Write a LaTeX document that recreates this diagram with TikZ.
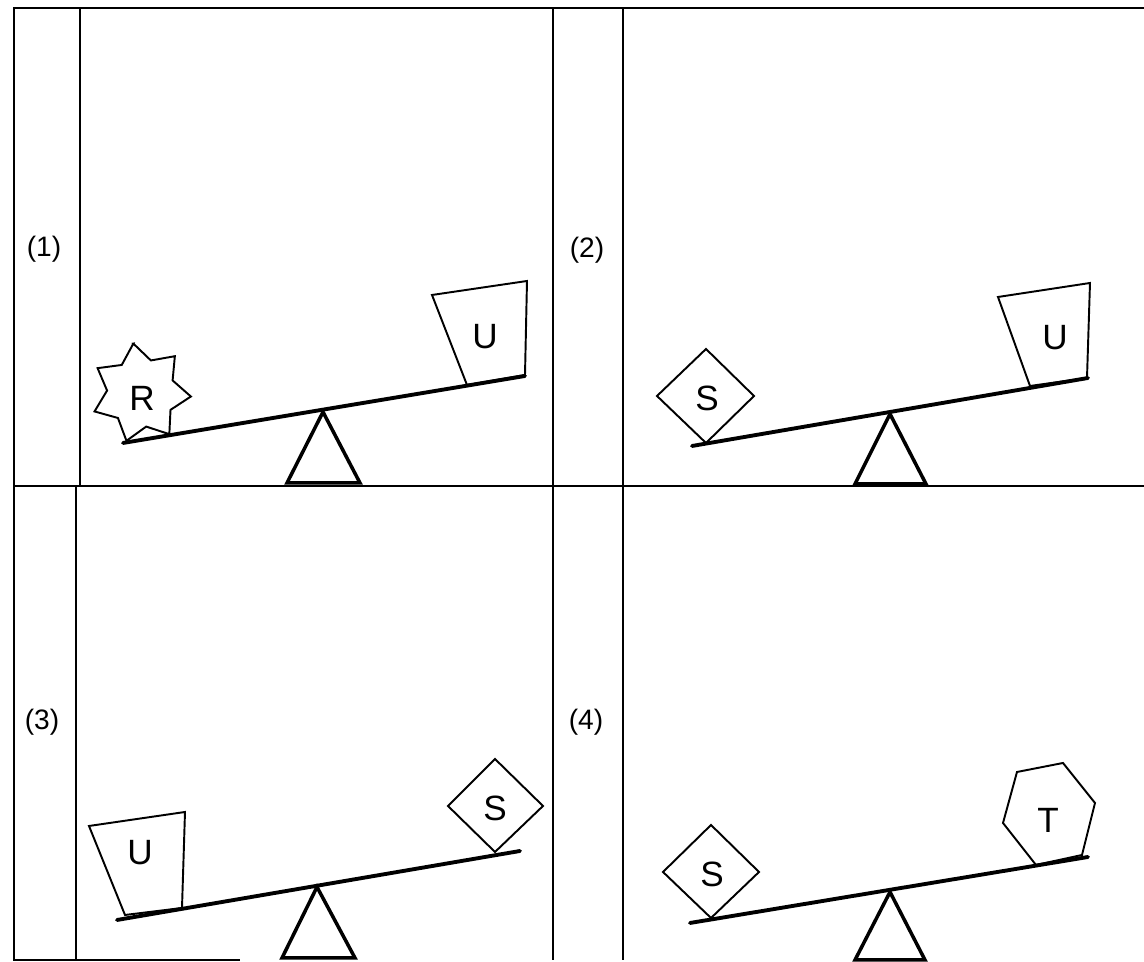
\documentclass[tikz,border=0pt]{standalone}
\usepackage{fontspec}
\setmainfont{Liberation Sans}
\usepackage{tikz}
\usetikzlibrary{positioning}
\tikzset{frame/.style = {line width=1.2pt},
         beam/.style = {line width=2.2pt, line cap=round},
         fulcrum/.style = {line width=2pt, line join=miter},
         weight/.style = {line width=1.1pt, line join=miter},
         letter/.style = {font=\fontsize{20}{22}\selectfont},
         tag/.style = {font=\fontsize{16}{18}\selectfont}}

\begin{document}
\begin{tikzpicture}[x=0.02cm, y=0.02cm]
    \useasboundingbox (0, 0) rectangle (1144, 962);

    \draw [frame] (1144, 954) -- (14, 954) -- (14, 2) -- (240, 2);
    \draw [frame] (14, 476) -- (1144, 476);
    \draw [frame] (80, 954) -- (80, 476);
    \draw [frame] (76, 476) -- (76, 2);
    \draw [frame] (553, 954) -- (553, 2);
    \draw [frame] (623, 954) -- (623, 2);

    \node [tag] (lab1) at (44, 713) {(1)};
    \node [tag] (lab2) at (587, 712) {(2)};
    \node [tag] (lab3) at (42, 240) {(3)};
    \node [tag] (lab4) at (586, 240) {(4)};

    % (1)
    \coordinate (piv1) at (323, 550);
    \draw [fulcrum] (piv1) -- ++(-36, -71) -- ++(73, 0) -- cycle;
    \draw [beam] (123, 519) -- (525, 586);
    \draw [weight] (432, 667) -- (527, 681) -- (525, 587) -- (467, 577) -- cycle;
    \node [letter] (u1) at (485, 625) {U};
    \draw [weight, shift={(141, 569)}] (98.8:50)
        \foreach \i in {0,...,6} { -- ({124.5 + 51.43*\i}:34) -- ({150.23 + 51.43*\i}:50)}
        -- cycle;
    \node [letter] (r1) at (142, 564) {R};

    % (2)
    \coordinate (piv2) at (890, 548);
    \draw [fulcrum] (piv2) -- ++(-35, -70) -- ++(71, 0) -- cycle;
    \draw [beam] (692, 516) -- (1088, 584);
    \draw [weight] (998, 665) -- (1090, 679) -- (1087, 584) -- (1030, 576) -- cycle;
    \node [letter] (u2) at (1055, 624) {U};
    \draw [weight] (706, 613) -- (754, 566) -- (706, 519) -- (657, 566) -- cycle;
    \node [letter] (s2) at (707, 564) {S};

    % (3)
    \coordinate (piv3) at (317, 75);
    \draw [fulcrum] (piv3) -- ++(-35, -71) -- ++(73, 0) -- cycle;
    \draw [beam] (117, 42) -- (520, 111);
    \draw [weight] (89, 136) -- (185, 150) -- (182, 54) -- (125, 47) -- cycle;
    \node [letter] (u3) at (140, 109) {U};
    \draw [weight] (495, 203) -- (543, 156) -- (495, 110) -- (448, 156) -- cycle;
    \node [letter] (s3) at (495, 154) {S};

    % (4)
    \coordinate (piv4) at (890, 70);
    \draw [fulcrum] (piv4) -- ++(-35, -68) -- ++(70, 0) -- cycle;
    \draw [beam] (690, 39) -- (1088, 105);
    \draw [weight] (711, 137) -- (759, 90) -- (711, 44) -- (663, 90) -- cycle;
    \node [letter] (s4) at (712, 88) {S};
    \draw [weight] (1017, 190) -- (1063, 199) -- (1095, 159) -- (1082, 107)
        -- (1036, 97) -- (1003, 139) -- cycle;
    \node [letter] (t4) at (1048, 142) {T};
\end{tikzpicture}
\end{document}
